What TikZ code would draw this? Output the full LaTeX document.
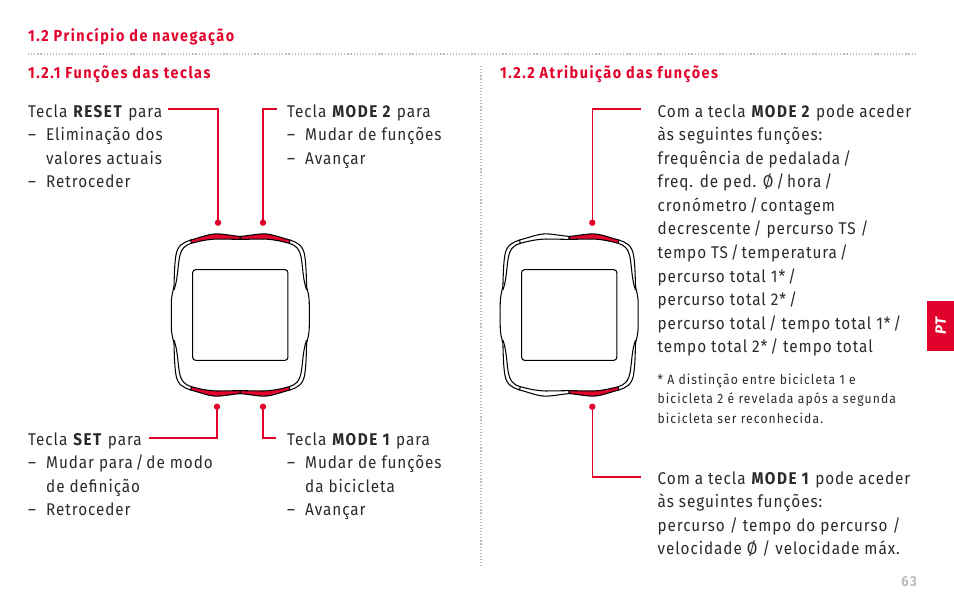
\documentclass[tikz,border=0pt]{standalone}
\usepackage{fontspec}
\setmainfont[FakeStretch=0.9,LetterSpace=5.5,BoldFont={Fira Sans Bold},BoldFeatures={LetterSpace=9}]{Fira Sans}
\newfontfamily\headfont[FakeStretch=0.9,LetterSpace=9.5]{Fira Sans Bold}
\newfontfamily\smallfont[FakeStretch=0.9,LetterSpace=8]{Fira Sans}
\newfontfamily\tabfont{Fira Sans Bold Italic}
\definecolor{brand}{HTML}{E2032D}
\definecolor{ink}{HTML}{2A2A2A}
\definecolor{dots}{HTML}{BDBDBD}
\newcommand{\quadrantshape}[3]{%
 \begin{scope}[xscale=#1,yscale=#2]
  \draw[caseline,fill=#3] (1,-236) .. controls (30,-238) and (55,-245) .. (79,-243) .. controls (100,-241) and (125,-231) .. (149,-225) -- (147,-215) .. controls (125,-221) and (100,-227) .. (70,-228) -- (1,-227) -- cycle;
  \draw[caseline] (149,-225) .. controls (170,-218) and (188,-210) .. (193,-180) .. controls (198,-150) and (198,-110) .. (199,-85) .. controls (202,-70) and (207,-60) .. (207,-30) -- (207,0);
  \draw[caseline] (147,-215) .. controls (165,-210) and (178,-200) .. (183,-170) .. controls (188,-140) and (188,-105) .. (199,-75);
 \end{scope}}
\newcommand{\devicecase}[3]{%
 \begin{scope}[shift={(#1,#2)},x=0.3333pt,y=-0.3333pt]
  \quadrantshape{1}{1}{brand}
  \quadrantshape{1}{-1}{brand}
  \quadrantshape{-1}{1}{#3}
  \quadrantshape{-1}{-1}{#3}
  \draw[caseline,rounded corners=3pt] (-143,-136) rectangle (143,136);
 \end{scope}}
\tikzset{
 caseline/.style={draw=black,line width=1.05pt},
 bodytext/.style={anchor=north west,inner sep=0pt,align=left,text=ink,font=\fontsize{17}{23.55}\selectfont},
 smalltext/.style={anchor=north west,inner sep=0pt,align=left,text=ink,font=\smallfont\fontsize{13.5}{19.7}\selectfont},
 headtext/.style={anchor=base west,inner sep=0pt,text=brand,font=\headfont\fontsize{16}{18}\selectfont},
 leader/.style={draw=brand,line width=1.4pt},
 tipdot/.style={circle,fill=brand,inner sep=0pt,minimum size=6.4pt},
 rule/.style={draw=dots,line width=1.2pt,dash pattern=on 1.2pt off 1.9pt},
}
\newcommand{\fl}{\rule{0pt}{15pt}}
\newcommand{\dashitem}{\makebox[18pt][l]{–}}
\newcommand{\contitem}{\hspace*{18pt}}
\begin{document}
\begin{tikzpicture}[x=1pt,y=-1pt]
\useasboundingbox (0,0) rectangle (954,603);
\node[headtext] (h1) at (28,41) {1.2 Princípio de navegação};
\node[headtext] (h2) at (28,78) {1.2.1 Funções das teclas};
\node[headtext] (h3) at (500,78) {1.2.2 Atribuição das funções};
\coordinate (ra) at (28,54); \coordinate (rb) at (917,54);
\coordinate (va) at (481,66); \coordinate (vb) at (481,566);
\draw[rule] (ra) -- (rb);
\draw[rule] (va) -- (vb);

\node[bodytext] (t1) at (28,102) {\fl Tecla \textbf{RESET} para\\\dashitem Eliminação dos\\\contitem valores actuais\\\dashitem Retroceder};
\node[bodytext] (t2) at (287,102) {\fl Tecla \textbf{MODE 2} para\\\dashitem Mudar de funções\\\dashitem Avançar};
\node[bodytext] (t3) at (28,430) {\fl Tecla \textbf{SET} para\\\dashitem Mudar para\,/\,de modo\\\contitem de definição\\\dashitem Retroceder};
\node[bodytext] (t4) at (287,430) {\fl Tecla \textbf{MODE 1} para\\\dashitem Mudar de funções\\\contitem da bicicleta\\\dashitem Avançar};
\node[bodytext] (t5) at (657.5,102) {\fl Com a tecla \textbf{MODE 2} pode aceder\\às seguintes funções:\\frequência de pedalada\,/\\freq. de ped. Ø\,/\,hora\,/\\cronómetro\,/\,contagem\\decrescente\,/ percurso TS /\\tempo TS\,/\,temperatura\,/\\percurso total 1*\,/\\percurso total 2*\,/\\percurso total\,/ tempo total 1*\,/\\tempo total 2*\,/ tempo total};
\node[smalltext] (t6) at (657.5,370) {\rule{0pt}{14pt}* A distinção entre bicicleta 1 e\\bicicleta 2 é revelada após a segunda\\bicicleta ser reconhecida.};
\node[bodytext] (t7) at (657.5,469) {\fl Com a tecla \textbf{MODE 1} pode aceder\\às seguintes funções:\\percurso / tempo do percurso /\\velocidade Ø / velocidade máx.};

\devicecase{240.3}{315}{brand}
\devicecase{569.2}{315}{white}

\node[tipdot] (d1) at (218,222.7) {};
\node[tipdot] (d2) at (263,222.7) {};
\node[tipdot] (d3) at (217,406.7) {};
\node[tipdot] (d4) at (263,406.7) {};
\node[tipdot] (d5) at (592.3,222.7) {};
\node[tipdot] (d6) at (592.3,406.7) {};
\coordinate (e1) at (168,109);
\coordinate (e2) at (277,109);
\coordinate (e3) at (149,438);
\coordinate (e4) at (276,438);
\coordinate (e5) at (641,109);
\coordinate (e6) at (641,477);
\draw[leader] (e1) -| (d1.center);
\draw[leader] (e2) -| (d2.center);
\draw[leader] (e3) -| (d3.center);
\draw[leader] (e4) -| (d4.center);
\draw[leader] (e5) -| (d5.center);
\draw[leader] (e6) -| (d6.center);

\node[fill=brand,minimum width=27pt,minimum height=50pt,inner sep=0pt,anchor=north west] (tab) at (927,301) {};
\node[rotate=90,text=white,inner sep=0pt,font=\tabfont\fontsize{15}{16}\selectfont] (tabt) at (tab.center) {PT};
\node[anchor=base east,inner sep=0pt,text=dots,font=\bfseries\fontsize{14.5}{16}\selectfont] (pg) at (917,586) {63};
\end{tikzpicture}
\end{document}
